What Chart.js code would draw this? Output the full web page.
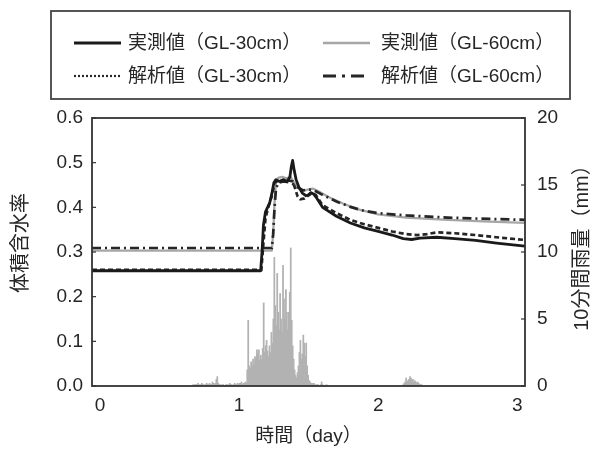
<!DOCTYPE html>
<html><head><meta charset="utf-8">
<script src="https://cdn.jsdelivr.net/npm/chart.js@4/dist/chart.umd.min.js"></script>
<style>html,body{margin:0;padding:0;background:#fff;}canvas{display:block;}</style>
</head><body>
<canvas id="c" width="593" height="449"></canvas>
<script>
// ---- data ----
const xTicks = [0, 1, 2, 3];
const xMin = -0.057, xMax = 3.055;

// measured GL-30cm (solid black)
const obs30T = [-0.057, 1.155, 1.165, 1.175, 1.19, 1.205, 1.22, 1.235, 1.25, 1.265, 1.29, 1.32, 1.345, 1.365, 1.375, 1.385, 1.395, 1.41, 1.43, 1.455, 1.48, 1.50, 1.515, 1.535, 1.56, 1.60, 1.70, 1.80, 1.90, 2.00, 2.10, 2.18, 2.24, 2.30, 2.42, 2.55, 2.70, 2.85, 3.055];
const obs30V = [0.258, 0.258, 0.300, 0.360, 0.390, 0.400, 0.410, 0.430, 0.455, 0.462, 0.458, 0.462, 0.458, 0.468, 0.490, 0.505, 0.485, 0.462, 0.445, 0.432, 0.426, 0.428, 0.433, 0.430, 0.420, 0.400, 0.380, 0.365, 0.354, 0.346, 0.338, 0.330, 0.328, 0.331, 0.333, 0.330, 0.326, 0.320, 0.313];

// measured GL-60cm (light grey)
const obs60T = [-0.057, 1.235, 1.245, 1.255, 1.265, 1.28, 1.31, 1.34, 1.37, 1.39, 1.42, 1.46, 1.50, 1.53, 1.57, 1.65, 1.75, 1.85, 2.00, 2.20, 2.50, 2.80, 3.055];
const obs60V = [0.303, 0.303, 0.340, 0.410, 0.455, 0.466, 0.468, 0.465, 0.468, 0.458, 0.445, 0.437, 0.440, 0.442, 0.436, 0.422, 0.408, 0.396, 0.384, 0.377, 0.372, 0.368, 0.365];

// simulated GL-30cm (dotted)
const sim30T = [-0.057, 1.16, 1.175, 1.19, 1.205, 1.22, 1.24, 1.255, 1.28, 1.32, 1.36, 1.385, 1.40, 1.42, 1.44, 1.47, 1.50, 1.525, 1.55, 1.60, 1.70, 1.80, 1.90, 2.00, 2.10, 2.20, 2.28, 2.35, 2.42, 2.55, 2.70, 2.85, 3.055];
const sim30V = [0.260, 0.260, 0.320, 0.375, 0.395, 0.410, 0.430, 0.455, 0.460, 0.458, 0.460, 0.458, 0.445, 0.425, 0.418, 0.420, 0.427, 0.432, 0.428, 0.405, 0.387, 0.372, 0.362, 0.354, 0.346, 0.340, 0.338, 0.340, 0.344, 0.342, 0.338, 0.333, 0.327];

// simulated GL-60cm (dash-dot)
const sim60T = [-0.057, 1.235, 1.245, 1.255, 1.265, 1.28, 1.32, 1.36, 1.39, 1.42, 1.46, 1.50, 1.54, 1.60, 1.70, 1.80, 1.90, 2.00, 2.20, 2.50, 2.80, 3.055];
const sim60V = [0.309, 0.309, 0.340, 0.400, 0.440, 0.455, 0.458, 0.456, 0.452, 0.445, 0.438, 0.440, 0.438, 0.428, 0.413, 0.401, 0.392, 0.387, 0.382, 0.377, 0.374, 0.372];

// 10-minute rainfall (mm), consecutive 10-min bins from the given start day
const rainStartA = 0.67;
const rainA = [0.1,0,0.1,0.1,0,0.2,0.1,0,0.1,0.2,0.1,0.1,0,0.1,0.2,0.1,0.1,0.2,0.1,0.1,0.3,0.2,0.1,0.2,0.5,0.7,0.2,0.1,0.1,0,0.1,0.1,0,0,0.1,0.1,0,0.1,0.2,0.1,0.1,0,0.1,0.2,0.1,0.1,0.2,0.1,0.2,0.2,0.3,0.1,0.2,0.2,0.3,0.2,
  1.2,4.9,1.5,1.3,1.8,1.5,2.0,1.6,2.2,2.0,2.7,2.4,2.7,1.9,2.3,2.0,2.8,6.2,2.5,3.0,3.4,2.6,2.2,3.0,2.5,4.0,3.2,5.0,9.6,6.0,4.5,8.4,5.5,4.2,6.9,5.0,4.0,9.0,6.5,5.0,7.2,5.5,4.2,5.5,7.0,10.3,4.9,3.0,2.0,1.2,0.8,0.6,1.0,1.5,2.5,3.4,2.0,2.4,3.8,3.2,2.2,3.2,1.5,0.8,0.4,0.3,0.2,0.2,0.1,0.2,
  0.1,0,0.1,0.1,0,0,0.1,0.3,0.1,0,0,0,0.1,0,0];
const rainStartB = 2.18;
const rainB = [0.1,0.2,0.3,0.6,0.3,0.4,0.5,0.7,0.6,0.4,0.5,0.3,0.4,0.3,0.2,0.3,0.2,0.1,0.1,0.1];

const yTicksLeft = [0, 0.1, 0.2, 0.3, 0.4, 0.5, 0.6];
const yTicksRight = [0, 5, 10, 15, 20];

const labels = ['実測値（GL-30cm）', '実測値（GL-60cm）', '解析値（GL-30cm）', '解析値（GL-60cm）'];
const xTitle = '時間（day）';
const yTitleLeft = '体積含水率';
const yTitleRight = '10分間雨量（mm）';

// ---- build ----
const toXY = (T, V) => T.map((t, i) => ({x: t, y: V[i]}));
const rainXY = (t0, vals) => vals.map((v, i) => ({x: t0 + i / 144, y: v}));

const FONT = '"Liberation Sans", "Noto Sans CJK JP", sans-serif';
const TXT = '#262626';

const datasets = [
  {type:'line', label: labels[0], data: toXY(obs30T, obs30V), borderColor:'#1a1a1a', borderWidth:2.8, pointRadius:0, tension:0, yAxisID:'y', order:1, borderJoinStyle:'round'},
  {type:'line', label: labels[1], data: toXY(obs60T, obs60V), borderColor:'#a6a6a6', borderWidth:2.3, pointRadius:0, tension:0, yAxisID:'y', order:4, borderJoinStyle:'round'},
  {type:'line', label: labels[2], data: toXY(sim30T, sim30V), borderColor:'#262626', borderWidth:2.7, borderDash:[5,3], pointRadius:0, tension:0, yAxisID:'y', order:2, legendDash:[2,2], legendWidth:2.2},
  {type:'line', label: labels[3], data: toXY(sim60T, sim60V), borderColor:'#262626', borderWidth:2.7, borderDash:[9,4,2,4], pointRadius:0, tension:0, yAxisID:'y', order:3, legendDash:[13,6,3,6], legendWidth:2.8},
  {type:'bar', label:'rain', data: rainXY(rainStartA, rainA).concat(rainXY(rainStartB, rainB)), backgroundColor:'#b2b2b2', borderWidth:0, barThickness:1.1, yAxisID:'y2', order:10}
];

const decor = {
  id: 'decor',
  afterDraw(chart) {
    const {ctx, chartArea: a} = chart;
    ctx.save();
    // frame
    ctx.strokeStyle = '#333'; ctx.lineWidth = 1.8;
    ctx.strokeRect(a.left, a.top, a.right - a.left, a.bottom - a.top);
    // inward ticks
    ctx.lineWidth = 1.2;
    const yl = chart.scales.y, yr = chart.scales.y2;
    yTicksLeft.forEach(v => { const p = yl.getPixelForValue(v); ctx.beginPath(); ctx.moveTo(a.left, p); ctx.lineTo(a.left + 4, p); ctx.stroke(); });
    yTicksRight.forEach(v => { const p = yr.getPixelForValue(v); ctx.beginPath(); ctx.moveTo(a.right, p); ctx.lineTo(a.right - 4, p); ctx.stroke(); });
    // legend box
    ctx.strokeStyle = '#444'; ctx.lineWidth = 1.8;
    ctx.strokeRect(51, 11, 519, 88);
    const lineX = [74, 323], textX = [128, 381], rowY = [43, 76], len = 47;
    ctx.font = '19px ' + FONT; ctx.textBaseline = 'middle'; ctx.textAlign = 'left';
    [0, 1, 2, 3].forEach(k => {
      const ds = chart.data.datasets[k];
      const col = k % 2, row = Math.floor(k / 2);
      ctx.strokeStyle = ds.borderColor;
      ctx.lineWidth = ds.legendWidth || ds.borderWidth;
      ctx.setLineDash(ds.legendDash || ds.borderDash || []);
      ctx.beginPath(); ctx.moveTo(lineX[col], rowY[row]); ctx.lineTo(lineX[col] + len, rowY[row]); ctx.stroke();
      ctx.setLineDash([]);
      ctx.fillStyle = TXT;
      ctx.fillText(ds.label, textX[col], rowY[row] + 1);
    });
    // y titles (both read bottom to top)
    ctx.font = '20px ' + FONT; ctx.textAlign = 'center'; ctx.fillStyle = TXT;
    ctx.save(); ctx.translate(21, 243); ctx.rotate(-Math.PI / 2); ctx.fillText(yTitleLeft, 0, 0); ctx.restore();
    ctx.save(); ctx.translate(582, 243); ctx.rotate(-Math.PI / 2); ctx.fillText(yTitleRight, 0, 0); ctx.restore();
    ctx.restore();
  }
};

new Chart(document.getElementById('c'), {
  type: 'bar',
  data: { datasets },
  options: {
    responsive: false, animation: false, devicePixelRatio: 1,
    layout: { padding: { top: 118, left: 0, right: 0, bottom: 0 } },
    plugins: { legend: { display: false }, tooltip: { enabled: false } },
    scales: {
      x: {
        type: 'linear', min: xMin, max: xMax, offset: false,
        grid: { display: false, drawTicks: false }, border: { display: false },
        afterBuildTicks: s => { s.ticks = xTicks.map(v => ({ value: v })); },
        afterFit: s => { s.height = 63; },
        ticks: { padding: 8, color: TXT, font: { family: FONT, size: 19 }, maxRotation: 0, callback: v => String(v) },
        title: { display: true, text: xTitle, color: TXT, font: { family: FONT, size: 19 }, padding: { top: 0, bottom: 1 } }
      },
      y: {
        position: 'left', min: 0, max: 0.6,
        grid: { display: false, drawTicks: false }, border: { display: false },
        afterBuildTicks: s => { s.ticks = yTicksLeft.map(v => ({ value: v })); },
        afterFit: s => { s.width = 92; },
        ticks: { padding: 9, color: TXT, font: { family: FONT, size: 19 }, callback: v => Number(v).toFixed(1) }
      },
      y2: {
        position: 'right', min: 0, max: 20,
        grid: { display: false, drawTicks: false }, border: { display: false },
        afterBuildTicks: s => { s.ticks = yTicksRight.map(v => ({ value: v })); },
        afterFit: s => { s.width = 68; },
        ticks: { padding: 12, color: TXT, font: { family: FONT, size: 19 }, callback: v => String(v) }
      }
    }
  },
  plugins: [decor]
});
</script>
</body></html>
